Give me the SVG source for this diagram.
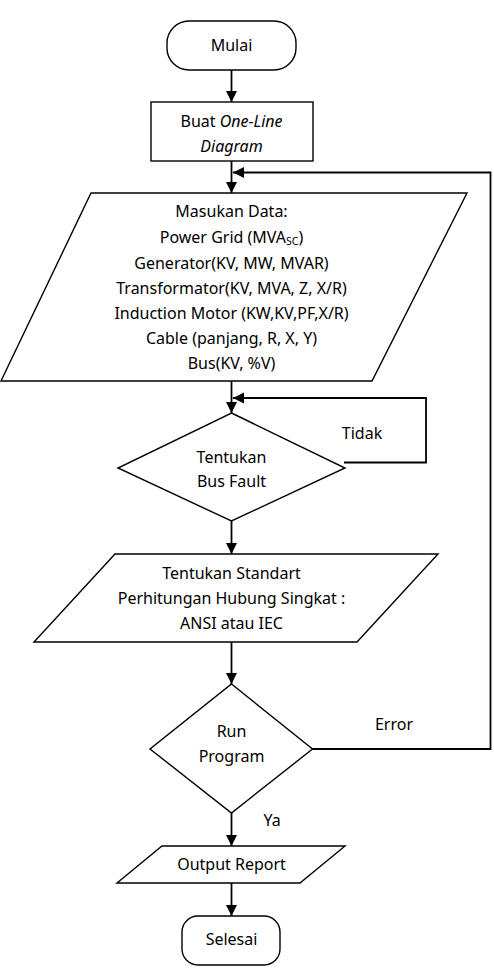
<svg xmlns="http://www.w3.org/2000/svg" width="494" height="972" viewBox="0 0 494 972">
<style>
.s{fill:#fff;stroke:#000;stroke-width:1.4}
.c{fill:none;stroke:#000;stroke-width:1.8}
text{font-family:"Noto Sans","Open Sans",sans-serif;font-size:16px;fill:#000;text-anchor:middle}
</style>
<defs>
<marker id="ah" markerWidth="12" markerHeight="12" refX="11" refY="5.5" orient="auto" markerUnits="userSpaceOnUse">
<path d="M0,0 L11,5.5 L0,11 Z" fill="#000"/>
</marker>
</defs>
<rect width="494" height="972" fill="#fff"/>
<g id="connectors">
<line class="c" x1="231.5" y1="70" x2="231.5" y2="102" marker-end="url(#ah)"/>
<line class="c" x1="231.5" y1="161" x2="231.5" y2="193" marker-end="url(#ah)"/>
<polyline class="c" points="312,749 490.5,749 490.5,172.5 233,172.5" marker-end="url(#ah)"/>
<line class="c" x1="231.5" y1="381" x2="231.5" y2="413" marker-end="url(#ah)"/>
<polyline class="c" points="344,462.5 426,462.5 426,398 233,398" marker-end="url(#ah)"/>
<line class="c" x1="231.5" y1="521" x2="231.5" y2="554" marker-end="url(#ah)"/>
<line class="c" x1="231.5" y1="642" x2="231.5" y2="684" marker-end="url(#ah)"/>
<line class="c" x1="231.5" y1="813" x2="231.5" y2="846" marker-end="url(#ah)"/>
<line class="c" x1="231.5" y1="883" x2="231.5" y2="916" marker-end="url(#ah)"/>
<text x="362" y="438.5">Tidak</text>
<text x="394" y="729.5">Error</text>
<text x="272" y="826">Ya</text>
</g>
<g id="mulai">
<rect class="s" x="167" y="21" width="129" height="49" rx="22" ry="22"/>
<text x="231.5" y="50.5">Mulai</text>
</g>
<g id="buat">
<rect class="s" x="151" y="102" width="162" height="59"/>
<text x="231.5" y="126.5">Buat <tspan font-style="italic">One-Line</tspan></text>
<text x="231.5" y="152" font-style="italic">Diagram</text>
</g>
<g id="masukan">
<polygon class="s" points="91,193 467,193 372,381 1,381"/>
<text x="231.5" y="217">Masukan Data:</text>
<text x="231.5" y="243">Power Grid (MVA<tspan font-size="10.5" dy="2">SC</tspan><tspan dy="-2">)</tspan></text>
<text x="231.5" y="268.5">Generator(KV, MW, MVAR)</text>
<text x="231.5" y="293.5">Transformator(KV, MVA, Z, X/R)</text>
<text x="231.5" y="318.5">Induction Motor (KW,KV,PF,X/R)</text>
<text x="231.5" y="343.5">Cable (panjang, R, X, Y)</text>
<text x="231.5" y="368.5">Bus(KV, %V)</text>
</g>
<g id="busfault">
<polygon class="s" points="231.5,413 345,468 231.5,521 118,468"/>
<text x="231.5" y="462.5">Tentukan</text>
<text x="231.5" y="487">Bus Fault</text>
</g>
<g id="standart">
<polygon class="s" points="115,554 438,554 357,642 34,642"/>
<text x="231.5" y="578.5">Tentukan Standart</text>
<text x="231.5" y="603.5">Perhitungan Hubung Singkat :</text>
<text x="231.5" y="628.5">ANSI atau IEC</text>
</g>
<g id="run">
<polygon class="s" points="231.5,684 312.5,749 231.5,813 150,749"/>
<text x="231.5" y="737">Run</text>
<text x="231.5" y="762">Program</text>
</g>
<g id="output">
<polygon class="s" points="162,846 345,846 300,883 117,883"/>
<text x="231.5" y="869.5">Output Report</text>
</g>
<g id="selesai">
<rect class="s" x="182" y="916" width="98" height="49" rx="16" ry="16"/>
<text x="231.5" y="945">Selesai</text>
</g>
</svg>
